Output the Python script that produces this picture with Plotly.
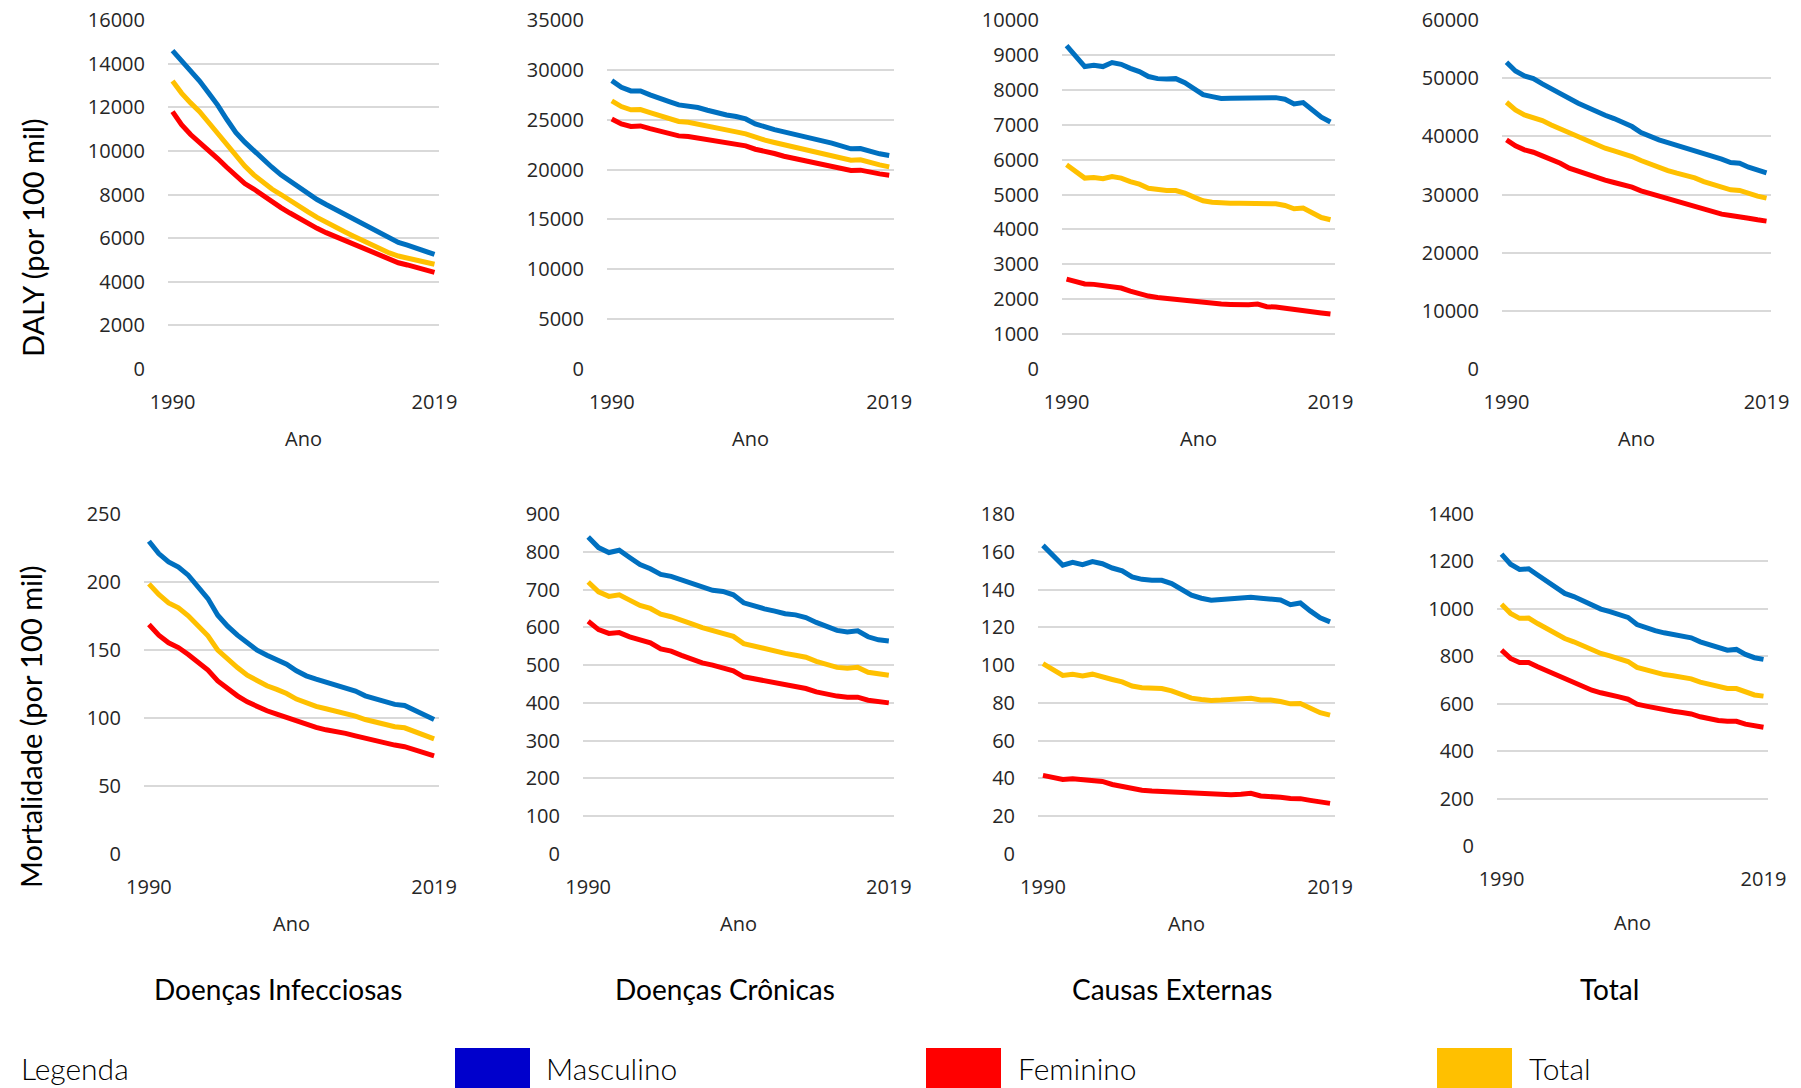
import plotly.graph_objects as go

W, H = 1801, 1088

years = list(range(1990, 2020))
x_tick_vals = [1990, 2019]
x_tick_text = ["1990", "2019"]

series_names = ["Masculino", "Feminino", "Total"]
line_colors = ["#0070C0", "#FF0000", "#FFC000"]
legend_colors = ["#0000CC", "#FF0000", "#FFC000"]

column_titles = ["Doenças Infecciosas", "Doenças Crônicas", "Causas Externas", "Total"]
row_titles = ["DALY (por 100 mil)", "Mortalidade (por 100 mil)"]
x_title = "Ano"

# ---------------- DALY (por 100 mil) ----------------
daly_inf_masc = [14600, 14150, 13650, 13200, 12650, 12100, 11450, 10850, 10400, 10000,
                 9600, 9250, 8900, 8600, 8300, 8000, 7770, 7540, 7320, 7090,
                 6870, 6640, 6420, 6200, 5980, 5800, 5680, 5540, 5400, 5250]
daly_inf_fem = [11800, 11200, 10750, 10400, 10050, 9650, 9250, 8850, 8500, 8250,
                7950, 7650, 7400, 7150, 6900, 6680, 6450, 6250, 6070, 5900,
                5720, 5530, 5350, 5170, 5000, 4870, 4770, 4670, 4560, 4430]
daly_inf_total = [13200, 12650, 12200, 11800, 11300, 10800, 10300, 9750, 9300, 8900,
                  8550, 8250, 8000, 7720, 7450, 7200, 6950, 6720, 6500, 6300,
                  6100, 5900, 5700, 5520, 5320, 5180, 5080, 4980, 4880, 4800]

daly_cro_masc = [28920, 28260, 27890, 27890, 27490, 27090, 26820, 26490, 26390, 26220,
                 25950, 25690, 25480, 25320, 25080, 24580, 24250, 24010, 23780, 23580,
                 23380, 23180, 22880, 22650, 22310, 22080, 22110, 21810, 21580, 21410]
daly_cro_fem = [25080, 24580, 24320, 24380, 24110, 23880, 23680, 23380, 23310, 23150,
                22950, 22810, 22680, 22540, 22380, 22040, 21880, 21610, 21340, 21140,
                20940, 20740, 20470, 20240, 20040, 19910, 19940, 19710, 19570, 19440]
daly_cro_total = [26890, 26320, 25990, 26020, 25720, 25420, 25220, 24820, 24750, 24580,
                  24350, 24150, 23980, 23780, 23580, 23210, 22950, 22710, 22480, 22280,
                  22080, 21880, 21610, 21410, 21140, 20940, 20980, 20670, 20470, 20270]

daly_ext_masc = [9265, 8970, 8665, 8700, 8665, 8780, 8730, 8615, 8520, 8380,
                 8320, 8310, 8320, 8205, 8035, 7860, 7805, 7750, 7760, 7765,
                 7760, 7785, 7775, 7775, 7730, 7595, 7635, 7425, 7215, 7080]
daly_ext_fem = [2575, 2510, 2435, 2425, 2385, 2375, 2320, 2230, 2155, 2090,
                2050, 2020, 1995, 1955, 1930, 1900, 1880, 1860, 1850, 1840,
                1840, 1860, 1785, 1775, 1735, 1690, 1680, 1630, 1605, 1575]
daly_ext_total = [5850, 5660, 5470, 5485, 5450, 5515, 5470, 5370, 5295, 5180,
                  5135, 5115, 5115, 5040, 4925, 4820, 4780, 4750, 4750, 4750,
                  4750, 4770, 4735, 4735, 4685, 4590, 4610, 4465, 4340, 4275]

daly_tot_masc = [52730, 51240, 50380, 49920, 49010, 48200, 47400, 46370, 45690, 45000,
                 44200, 43620, 43050, 42480, 41680, 40650, 39960, 39390, 38930, 38470,
                 38070, 37610, 37100, 36640, 36070, 35500, 35380, 34690, 34120, 33720]
daly_tot_fem = [39390, 38360, 37670, 37270, 36640, 36070, 35380, 34520, 33950, 33430,
                32920, 32460, 32060, 31720, 31260, 30630, 30170, 29660, 29200, 28800,
                28400, 28000, 27480, 27020, 26620, 26390, 26220, 25930, 25650, 25420]
daly_tot_total = [45860, 44540, 43680, 43280, 42710, 41960, 41280, 40480, 39790, 39160,
                  38530, 37960, 37500, 37040, 36530, 35840, 35210, 34640, 34120, 33660,
                  33260, 32860, 32230, 31720, 31200, 30800, 30690, 30170, 29710, 29370]

# ---------------- Mortalidade (por 100 mil) ----------------
mort_inf_masc = [230.0, 220.9, 214.8, 211.0, 205.0, 196.9, 187.8, 175.6, 167.5, 160.9,
                 154.8, 149.9, 146.2, 143.3, 139.6, 134.7, 131.0, 128.6, 126.4, 124.7,
                 122.4, 119.8, 116.3, 114.4, 111.9, 110.0, 109.2, 105.8, 102.1, 98.9]
mort_inf_fem = [168.7, 160.9, 155.3, 151.8, 146.7, 140.8, 135.2, 127.3, 121.7, 116.3,
                111.9, 108.2, 105.3, 102.9, 100.4, 97.2, 94.8, 93.1, 91.3, 90.4,
                88.7, 86.9, 85.0, 83.3, 81.3, 80.1, 78.9, 76.9, 74.4, 72.2]
mort_inf_total = [198.6, 190.8, 184.6, 181.0, 175.1, 168.2, 160.4, 149.9, 143.3, 137.1,
                  131.5, 127.1, 123.7, 121.0, 118.0, 113.9, 110.7, 108.5, 106.8, 105.3,
                  103.4, 101.4, 98.9, 97.2, 95.0, 93.6, 92.8, 89.9, 87.2, 84.7]

mort_cro_masc = [839, 811, 798, 804, 785, 766, 755, 740, 735, 726,
                 716, 707, 698, 695, 686, 665, 656, 649, 643, 636,
                 633, 626, 613, 602, 592, 588, 591, 575, 567, 564]
mort_cro_fem = [616, 594, 584, 586, 575, 566, 559, 543, 537, 526,
                515, 506, 500, 494, 485, 469, 464, 458, 451, 447,
                443, 438, 429, 423, 418, 415, 415, 407, 403, 400]
mort_cro_total = [720, 694, 682, 686, 672, 658, 650, 635, 628, 620,
                  609, 599, 591, 585, 576, 557, 550, 542, 535, 531,
                  526, 521, 510, 502, 494, 492, 494, 481, 476, 473]

mort_ext_masc = [163.4, 158.1, 152.9, 154.4, 153.2, 154.8, 153.7, 151.4, 149.9, 146.7,
                 145.4, 144.9, 144.9, 143.2, 140.3, 137.0, 135.4, 134.3, 134.7, 135.2,
                 135.2, 135.9, 135.4, 135.2, 134.5, 132.0, 132.9, 128.7, 125.0, 122.9]
mort_ext_fem = [41.6, 40.5, 39.5, 39.8, 39.3, 39.3, 38.4, 36.8, 35.8, 34.6,
                33.8, 33.3, 33.1, 32.8, 32.4, 32.1, 31.7, 31.6, 31.4, 31.4,
                31.6, 32.1, 30.7, 30.5, 30.0, 29.4, 29.3, 28.4, 27.5, 26.8]
mort_ext_total = [100.8, 97.7, 94.5, 95.2, 94.3, 95.2, 94.1, 92.4, 91.1, 88.9,
                  88.0, 87.6, 87.6, 86.4, 84.6, 82.5, 81.8, 81.3, 81.5, 81.8,
                  81.8, 82.5, 81.5, 81.5, 80.7, 79.5, 79.7, 77.1, 74.8, 73.5]

mort_tot_masc = [1231, 1188, 1166, 1169, 1143, 1117, 1093, 1065, 1052, 1034,
                 1016, 999, 988, 978, 964, 934, 919, 908, 899, 893,
                 888, 878, 861, 848, 836, 826, 829, 808, 794, 787]
mort_tot_fem = [826, 791, 774, 774, 756, 740, 725, 704, 691, 672,
                657, 646, 639, 629, 619, 598, 590, 581, 574, 568,
                563, 557, 545, 536, 529, 526, 526, 514, 507, 501]
mort_tot_total = [1019, 981, 960, 961, 938, 917, 899, 875, 861, 843,
                  826, 812, 802, 792, 778, 753, 742, 732, 723, 718,
                  713, 705, 691, 681, 671, 664, 664, 649, 637, 632]

panels_data = [
    (daly_inf_masc, daly_inf_fem, daly_inf_total),
    (daly_cro_masc, daly_cro_fem, daly_cro_total),
    (daly_ext_masc, daly_ext_fem, daly_ext_total),
    (daly_tot_masc, daly_tot_fem, daly_tot_total),
    (mort_inf_masc, mort_inf_fem, mort_inf_total),
    (mort_cro_masc, mort_cro_fem, mort_cro_total),
    (mort_ext_masc, mort_ext_fem, mort_ext_total),
    (mort_tot_masc, mort_tot_fem, mort_tot_total),
]
y_max = [16000, 35000, 10000, 60000, 250, 900, 180, 1400]
y_step = [2000, 5000, 1000, 10000, 50, 100, 20, 200]

# ---------------- layout geometry (pixels) ----------------
panel_px = [
    (168, 439, 20, 369), (607, 894, 20, 369), (1062, 1335, 20, 369), (1502, 1771, 20, 369),
    (144, 439, 514, 854), (583, 894, 514, 854), (1038, 1335, 514, 854), (1497, 1768, 514, 846),
]
ano_y = [438, 438, 438, 438, 923, 923, 923, 922]

def px(x):
    return x / W

def py(y):
    return 1 - y / H

TICK_FONT = dict(family="Open Sans", size=20, color="#262626")
GRID = "#D9D9D9"

fig = go.Figure()
layout = dict(
    width=W, height=H, autosize=False,
    margin=dict(l=0, r=0, t=0, b=0, pad=0, autoexpand=False),
    paper_bgcolor="white", plot_bgcolor="white",
    showlegend=False,
)
annotations = []
shapes = []

for i, (data, (x0, x1, y0, y1)) in enumerate(zip(panels_data, panel_px)):
    n = i + 1
    xa = "xaxis" if n == 1 else f"xaxis{n}"
    ya = "yaxis" if n == 1 else f"yaxis{n}"
    xr = "x" if n == 1 else f"x{n}"
    yr = "y" if n == 1 else f"y{n}"
    for vals, name, col in zip(data, series_names, line_colors):
        fig.add_trace(go.Scatter(
            x=years, y=vals, mode="lines", name=name,
            line=dict(color=col, width=5),
            xaxis=xr, yaxis=yr, hoverinfo="x+y+name",
        ))
    layout[xa] = dict(
        domain=[px(x0), px(x1)], anchor=yr,
        range=[1989.5, 2019.5], tickmode="array",
        tickvals=x_tick_vals, ticktext=x_tick_text,
        showgrid=False, zeroline=False, showline=False,
        ticks="outside", ticklen=15, tickcolor="rgba(0,0,0,0)",
        tickfont=TICK_FONT, fixedrange=True, automargin=False,
    )
    layout[ya] = dict(
        domain=[py(y1), py(y0)], anchor=xr,
        range=[0, y_max[i]], dtick=y_step[i], tick0=0,
        tickformat="d",
        showgrid=True, gridcolor=GRID, gridwidth=1.5,
        zeroline=False, showline=False,
        ticks="outside", ticklen=18, tickcolor="rgba(0,0,0,0)",
        tickfont=TICK_FONT, fixedrange=True, automargin=False,
    )
    annotations.append(dict(
        text=x_title, x=px((x0 + x1) / 2), y=py(ano_y[i]),
        xref="paper", yref="paper", xanchor="center", yanchor="middle",
        showarrow=False, font=dict(family="Open Sans", size=20, color="#262626"),
    ))

# row titles
for txt, (cx, cy) in zip(row_titles, [(32, 238), (30, 727)]):
    annotations.append(dict(
        text=txt, x=px(cx), y=py(cy), xref="paper", yref="paper",
        xanchor="center", yanchor="middle", textangle=-90, showarrow=False,
        font=dict(family="Lato", size=29, color="#000000"),
    ))

# column titles
for txt, cx in zip(column_titles, [278, 725, 1172, 1609]):
    annotations.append(dict(
        text=txt, x=px(cx), y=py(989), xref="paper", yref="paper",
        xanchor="center", yanchor="middle", showarrow=False,
        font=dict(family="Lato", size=28, color="#000000"),
    ))

# legend
annotations.append(dict(
    text="Legenda", x=px(19), y=py(1068), xref="paper", yref="paper",
    xanchor="left", yanchor="middle", showarrow=False,
    font=dict(family="Lato", size=30, color="#000000", weight=300),
))
for name, col, sx, tx in zip(series_names, legend_colors, [455, 926, 1437], [544, 1016, 1527]):
    shapes.append(dict(
        type="rect", xref="paper", yref="paper",
        x0=px(sx), x1=px(sx + 75), y0=py(1088), y1=py(1048),
        fillcolor=col, line=dict(width=0),
    ))
    annotations.append(dict(
        text=name, x=px(tx), y=py(1068), xref="paper", yref="paper",
        xanchor="left", yanchor="middle", showarrow=False,
        font=dict(family="Lato", size=30, color="#000000", weight=300),
    ))

layout["annotations"] = annotations
layout["shapes"] = shapes
fig.update_layout(**layout)

fig.write_html(
    "out.html",
    config={"displayModeBar": False, "responsive": False},
    post_script="document.body.style.margin='0';document.body.style.overflow='hidden';",
)
